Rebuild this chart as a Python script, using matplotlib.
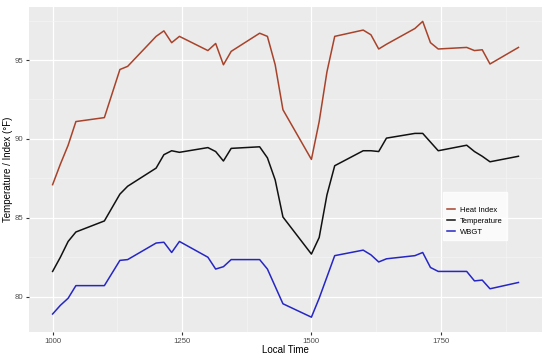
import matplotlib
matplotlib.use("Agg")
import matplotlib.pyplot as plt
from matplotlib.ticker import MultipleLocator

plt.rcParams['font.family'] = ['Liberation Sans', 'DejaVu Sans']

# local time (HHMM as number)
times = [1000, 1015, 1030, 1045, 1100, 1130, 1145, 1200, 1215, 1230, 1245,
         1300, 1315, 1330, 1345, 1400, 1415, 1430, 1445, 1500, 1515, 1530,
         1545, 1600, 1615, 1630, 1645, 1700, 1715, 1730, 1745, 1800, 1815,
         1830, 1845, 1900]

heat_index = [87.1, 88.4, 89.6, 91.1, 91.35, 94.4, 94.6, 96.5, 96.85, 96.1, 96.5,
              95.6, 96.05, 94.7, 95.55, 96.7, 96.5, 94.7, 91.85, 88.7, 91.1, 94.25,
              96.5, 96.9, 96.6, 95.7, 96.0, 97.0, 97.45, 96.1, 95.7, 95.8, 95.6,
              95.65, 94.75, 95.8]

temperature = [81.6, 82.5, 83.5, 84.1, 84.8, 86.5, 87.0, 88.15, 89.0, 89.25, 89.15,
               89.45, 89.2, 88.6, 89.4, 89.5, 88.8, 87.4, 85.05, 82.7, 83.75, 86.45,
               88.3, 89.25, 89.25, 89.2, 90.05, 90.35, 90.35, 89.8, 89.25, 89.6, 89.2,
               88.9, 88.55, 88.9]

wbgt = [78.9, 79.45, 79.9, 80.7, 80.7, 82.3, 82.35, 83.4, 83.45, 82.8, 83.5,
        82.5, 81.75, 81.9, 82.35, 82.35, 81.75, 80.65, 79.55, 78.7, 79.9, 81.25,
        82.6, 82.95, 82.65, 82.2, 82.4, 82.6, 82.8, 81.85, 81.6, 81.6, 81.0,
        81.05, 80.5, 80.9]

series = [("Heat Index", heat_index, "#A8432B"),
          ("Temperature", temperature, "#111111"),
          ("WBGT", wbgt, "#2626C4")]

fig = plt.figure(figsize=(5.5, 3.61), dpi=100)
ax = fig.add_axes([0.0533, 0.0812, 0.9317, 0.9002])
ax.set_facecolor("#EBEBEB")

for label, vals, col in series:
    ax.plot(times, vals, color=col, lw=1.1, label=label)

ax.set_xlim(955, 1945)
ax.set_ylim(77.78, 98.38)
ax.xaxis.set_major_locator(MultipleLocator(250))
ax.xaxis.set_minor_locator(MultipleLocator(125))
ax.yaxis.set_major_locator(MultipleLocator(5))
ax.yaxis.set_minor_locator(MultipleLocator(2.5))
ax.grid(which="major", color="white", lw=0.9)
ax.grid(which="minor", color="#F5F5F5", lw=0.5)
ax.set_axisbelow(True)
for s in ax.spines.values():
    s.set_visible(False)
ax.tick_params(which="major", length=2.5, color="#333333", labelsize=5.6,
               labelcolor="#4D4D4D", pad=2)
ax.tick_params(which="minor", length=0)

ax.set_xlabel("Local Time", fontsize=7)
ax.set_ylabel("Temperature / Index (°F)", fontsize=7)
ax.xaxis.set_label_coords(0.5, -0.042)
ax.yaxis.set_label_coords(-0.032, 0.5)

leg = ax.legend(loc="upper left", bbox_to_anchor=(0.807, 0.43), fontsize=5.5,
                title=" ", title_fontsize=5,
                frameon=True, fancybox=False, handlelength=1.1,
                handletextpad=0.6, labelspacing=0.45, borderpad=0.55,
                borderaxespad=0)
leg.get_frame().set_facecolor("white")
leg.get_frame().set_edgecolor("white")

fig.savefig("out.png", dpi=100)
